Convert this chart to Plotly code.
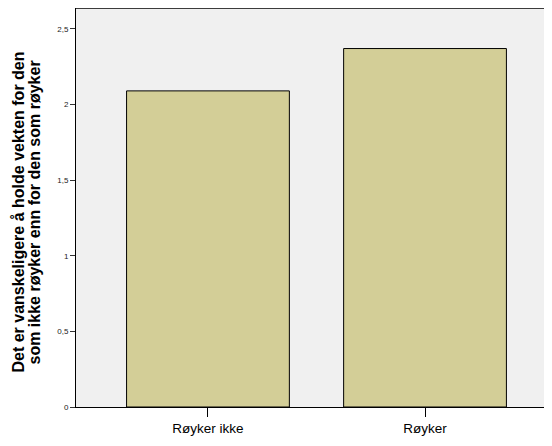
import plotly.graph_objects as go

categories = ["Røyker ikke", "Røyker"]
values = [2.09, 2.37]
ytick_vals = [0, 0.5, 1, 1.5, 2, 2.5]
ytick_text = ["0", "0,5", "1", "1,5", "2", "2,5"]
ytitle_lines = ["Det er vanskeligere å holde vekten for den",
                "som ikke røyker enn for den som røyker"]

fig = go.Figure()
fig.add_trace(go.Bar(
    x=categories, y=values, width=0.75,
    marker=dict(color="#d3ce97", line=dict(color="#000000", width=1)),
))

fig.update_layout(
    width=544, height=438,
    margin=dict(l=68, r=0, t=0, b=39, pad=0),
    paper_bgcolor="white", plot_bgcolor="#f0f0f0",
    font=dict(family="Liberation Sans, Arial, sans-serif", color="black"),
    showlegend=False,
    separators=",.",
)
fig.update_xaxes(
    range=[-0.608, 1.585], showgrid=False, zeroline=False,
    showline=True, linecolor="black", linewidth=1,
    ticks="outside", ticklen=9, tickcolor="black", tickwidth=1,
    tickfont=dict(size=13.5), fixedrange=True,
)
fig.update_yaxes(
    range=[0, 2.638], showgrid=False, zeroline=False,
    showline=True, linecolor="black", linewidth=1,
    ticks="outside", ticklen=5, tickcolor="#333333", tickwidth=1,
    tickmode="array", tickvals=ytick_vals, ticktext=ytick_text,
    tickfont=dict(size=8, color="#222222"),
)
fig.add_shape(type="line", xref="paper", yref="paper", x0=0, x1=1, y0=1, y1=1,
              line=dict(color="black", width=1.5))
for i, (line, shift) in enumerate(zip(ytitle_lines, [-58, -42])):
    fig.add_annotation(
        text="<b>" + line + "</b>", xref="paper", yref="paper",
        x=0, y=0.5, xanchor="center", yanchor="middle", xshift=shift, yshift=-5,
        textangle=-90, showarrow=False, font=dict(size=16, color="black"),
    )

fig.write_html("out.html")
